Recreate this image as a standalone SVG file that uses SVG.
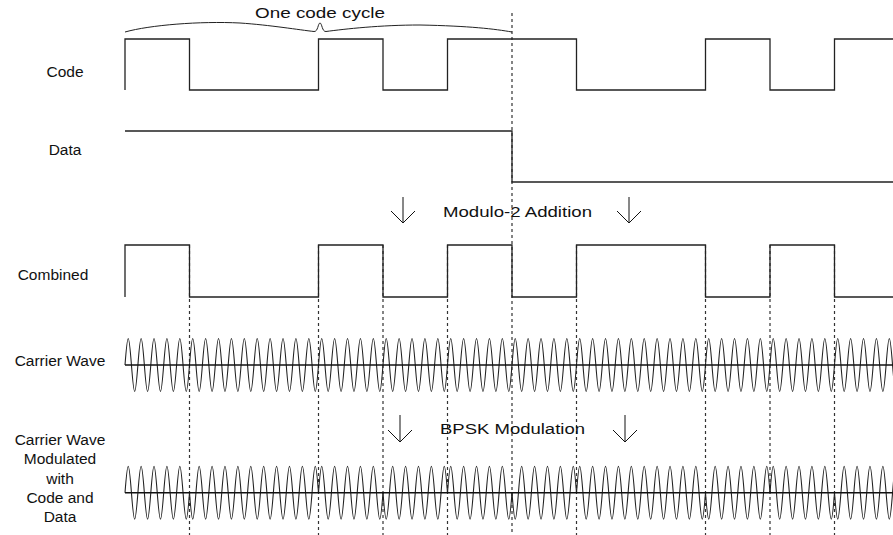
<svg xmlns="http://www.w3.org/2000/svg" xmlns:xlink="http://www.w3.org/1999/xlink" width="893" height="535" viewBox="0 0 893 535">
  <style>
    .lbl { font-family: "Liberation Sans", Arial, sans-serif; font-size: 15.5px; fill: #111; }
    .mid { text-anchor: middle; }
    .sig { fill: none; stroke: #222; stroke-width: 1.3; }
    .axis { fill: none; stroke: #111; stroke-width: 1.4; }
    .wave { fill: none; stroke: #222; stroke-width: 1.1; }
    .dash { fill: none; stroke: #333; stroke-width: 1.2; stroke-dasharray: 3 3; }
    .arrow { fill: none; stroke: #111; stroke-width: 1; }
  </style>
  <defs>
    <!-- five carrier cycles = one chip (64.5 px) -->
    <path id="chip" class="wave" d="M0,0 c2.74,-35.33 3.71,-35.33 6.45,0 c2.74,35.33 3.71,35.33 6.45,0 c2.74,-35.33 3.71,-35.33 6.45,0 c2.74,35.33 3.71,35.33 6.45,0 c2.74,-35.33 3.71,-35.33 6.45,0 c2.74,35.33 3.71,35.33 6.45,0 c2.74,-35.33 3.71,-35.33 6.45,0 c2.74,35.33 3.71,35.33 6.45,0 c2.74,-35.33 3.71,-35.33 6.45,0 c2.74,35.33 3.71,35.33 6.45,0"/>
  </defs>

  <rect width="893" height="535" fill="#fff"/>

  <!-- connectors: chip boundaries and process arrows -->
  <g id="connectors">
    <line class="dash" x1="512" y1="13" x2="512" y2="535"/>
    <line class="dash" x1="189.5" y1="245" x2="189.5" y2="535"/>
    <line class="dash" x1="318.5" y1="245" x2="318.5" y2="535"/>
    <line class="dash" x1="383" y1="245" x2="383" y2="535"/>
    <line class="dash" x1="447.5" y1="245" x2="447.5" y2="535"/>
    <line class="dash" x1="576.5" y1="245" x2="576.5" y2="535"/>
    <line class="dash" x1="705.5" y1="245" x2="705.5" y2="535"/>
    <line class="dash" x1="770" y1="245" x2="770" y2="535"/>
    <line class="dash" x1="834.5" y1="245" x2="834.5" y2="535"/>

    <path class="arrow" d="M403,197 V223 M391,211 L403,223 L415,211"/>
    <path class="arrow" d="M629,197 V223 M617,211 L629,223 L641,211"/>
    <path class="arrow" d="M400,415 V442 M388,430 L400,442 L412,430"/>
    <path class="arrow" d="M625,415 V442 M613,430 L625,442 L637,430"/>
  </g>

  <g id="code-cycle">
    <path fill="none" stroke="#222" stroke-width="1" d="M125,32 C150,25 200,21 240,23 C270,25 300,30 314,31.5 C318,32 318,23 320,23 C322,23 322,32 326,31.5 C345,29 380,25 420,25 C470,26 495,29 512,32"/>
    <text class="lbl mid" x="320" y="18" textLength="130" lengthAdjust="spacingAndGlyphs">One code cycle</text>
  </g>

  <g id="code">
    <text class="lbl mid" x="65" y="77">Code</text>
    <path class="sig" d="M125,90 V39 H189.5 V90 H318.5 V39 H383 V90 H447.5 V39 H576.5 V90 H705.5 V39 H770 V90 H834.5 V39 H893"/>
  </g>

  <g id="data">
    <text class="lbl mid" x="65" y="155">Data</text>
    <path class="sig" d="M125,131 H512 V182 H893"/>
  </g>

  <g id="modulo-2">
    <text class="lbl" x="443" y="217" textLength="149" lengthAdjust="spacingAndGlyphs">Modulo-2 Addition</text>
  </g>

  <g id="combined">
    <text class="lbl mid" x="53" y="280">Combined</text>
    <path class="sig" d="M125,297 V245 H189.5 V297 H318.5 V245 H383 V297 H447.5 V245 H512 V297 H576.5 V245 H705.5 V297 H770 V245 H834.5 V297 H893"/>
  </g>

  <g id="carrier">
    <text class="lbl mid" x="60" y="366">Carrier Wave</text>
    <use xlink:href="#chip" transform="translate(125,365)"/>
    <use xlink:href="#chip" transform="translate(189.5,365)"/>
    <use xlink:href="#chip" transform="translate(254,365)"/>
    <use xlink:href="#chip" transform="translate(318.5,365)"/>
    <use xlink:href="#chip" transform="translate(383,365)"/>
    <use xlink:href="#chip" transform="translate(447.5,365)"/>
    <use xlink:href="#chip" transform="translate(512,365)"/>
    <use xlink:href="#chip" transform="translate(576.5,365)"/>
    <use xlink:href="#chip" transform="translate(641,365)"/>
    <use xlink:href="#chip" transform="translate(705.5,365)"/>
    <use xlink:href="#chip" transform="translate(770,365)"/>
    <use xlink:href="#chip" transform="translate(834.5,365)"/>
    <line class="axis" x1="125" y1="365" x2="893" y2="365"/>
  </g>

  <g id="bpsk">
    <text class="lbl" x="440" y="434" textLength="145" lengthAdjust="spacingAndGlyphs">BPSK Modulation</text>
  </g>

  <g id="modulated">
    <text class="lbl mid" x="60" y="445">Carrier Wave</text>
    <text class="lbl mid" x="60" y="464">Modulated</text>
    <text class="lbl mid" x="60" y="484">with</text>
    <text class="lbl mid" x="60" y="503">Code and</text>
    <text class="lbl mid" x="60" y="522">Data</text>
    <!-- phase follows the combined chips: + + inverted where the chip is low -->
    <use xlink:href="#chip" transform="translate(125,492.7)"/>
    <use xlink:href="#chip" transform="translate(189.5,492.7) scale(1,-1)"/>
    <use xlink:href="#chip" transform="translate(254,492.7) scale(1,-1)"/>
    <use xlink:href="#chip" transform="translate(318.5,492.7)"/>
    <use xlink:href="#chip" transform="translate(383,492.7) scale(1,-1)"/>
    <use xlink:href="#chip" transform="translate(447.5,492.7)"/>
    <use xlink:href="#chip" transform="translate(512,492.7) scale(1,-1)"/>
    <use xlink:href="#chip" transform="translate(576.5,492.7)"/>
    <use xlink:href="#chip" transform="translate(641,492.7)"/>
    <use xlink:href="#chip" transform="translate(705.5,492.7) scale(1,-1)"/>
    <use xlink:href="#chip" transform="translate(770,492.7)"/>
    <use xlink:href="#chip" transform="translate(834.5,492.7) scale(1,-1)"/>
    <line class="axis" x1="125" y1="492.7" x2="893" y2="492.7"/>
  </g>
</svg>
